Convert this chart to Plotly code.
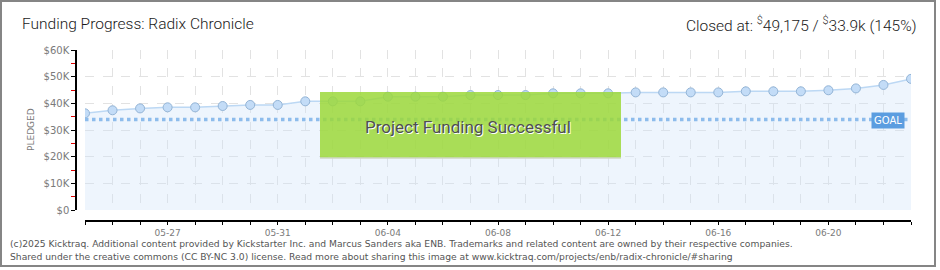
import plotly.graph_objects as go

# ---- data ----
dates = [
    "2025-05-24", "2025-05-25", "2025-05-26", "2025-05-27", "2025-05-28", "2025-05-29",
    "2025-05-30", "2025-05-31", "2025-06-01", "2025-06-02", "2025-06-03", "2025-06-04",
    "2025-06-05", "2025-06-06", "2025-06-07", "2025-06-08", "2025-06-09", "2025-06-10",
    "2025-06-11", "2025-06-12", "2025-06-13", "2025-06-14", "2025-06-15", "2025-06-16",
    "2025-06-17", "2025-06-18", "2025-06-19", "2025-06-20", "2025-06-21", "2025-06-22",
    "2025-06-23",
]
pledged = [
    36250, 37400, 38100, 38500, 38500, 39000,
    39400, 39400, 40750, 40750, 40750, 42500,
    42500, 42500, 43100, 43100, 43100, 43750,
    43750, 43750, 44100, 44100, 44100, 44100,
    44500, 44500, 44500, 44900, 45600, 46900,
    49175,
]
goal = 33900
y_tick_vals = [0, 10000, 20000, 30000, 40000, 50000, 60000]
y_tick_text = ["$0", "$10K", "$20K", "$30K", "$40K", "$50K", "$60K"]
y_minor_vals = [5000, 15000, 25000, 35000, 45000, 55000]
x_label_dates = ["2025-05-27", "2025-05-31", "2025-06-04", "2025-06-08",
                 "2025-06-12", "2025-06-16", "2025-06-20"]
x_label_text = [d[5:] for d in x_label_dates]
x_minor_dates = [d for d in dates if d not in x_label_dates]

W, H = 940, 270
def px(x):
    return x / W
def py(y):
    return (H - y) / H

fig = go.Figure()

# pledged area + line + markers
fig.add_trace(go.Scatter(
    x=dates, y=pledged, mode="lines+markers",
    fill="tozeroy", fillcolor="rgba(205,226,249,0.35)",
    line=dict(color="#bcd8f4", width=1.5),
    marker=dict(size=9, color="#c3dcf7", line=dict(color="#93b4d6", width=1)),
    hoverinfo="skip", showlegend=False,
))

# goal line
fig.add_trace(go.Scatter(
    x=[dates[0], dates[-1]], y=[goal, goal], mode="lines",
    line=dict(color="#8dbcec", width=3.5, dash="dot"),
    hoverinfo="skip", showlegend=False,
))

label_font = dict(family="DejaVu Sans", size=10, color="#7a7a7a")
grid = dict(gridcolor="#e2e2e2", griddash="dash", gridwidth=1)

fig.update_layout(
    width=W, height=H,
    margin=dict(l=0, r=0, t=0, b=0, autoexpand=False),
    paper_bgcolor="white", plot_bgcolor="white",
    xaxis=dict(
        type="date",
        range=[dates[0], dates[-1]],
        domain=[px(85), px(911)],
        anchor="free", position=py(221), automargin=False,
        tickmode="array", tickvals=x_label_dates, ticktext=x_label_text,
        ticks="outside", ticklen=3, tickcolor="#000", tickwidth=1.2,
        showline=True, linecolor="#000", linewidth=1.5,
        showgrid=True, **grid,
        minor=dict(tickmode="array", tickvals=x_minor_dates, ticks="outside",
                   ticklen=3, tickcolor="#000", tickwidth=1.2, showgrid=True, **grid),
        tickfont=dict(family="DejaVu Sans", size=9, color="#7a7a7a"),
        zeroline=False, fixedrange=True,
    ),
    yaxis=dict(
        range=[0, 60000],
        domain=[py(210), py(50)],
        anchor="free", position=px(76), automargin=False,
        tickmode="array", tickvals=y_tick_vals, ticktext=y_tick_text,
        ticks="outside", ticklen=4, tickcolor="#000", tickwidth=1.2,
        showline=True, linecolor="#000", linewidth=1.5,
        showgrid=True, **grid,
        tickfont=label_font,
        minor=dict(tickmode="array", tickvals=y_minor_vals, ticks="outside",
                   ticklen=4, tickcolor="#e00000", tickwidth=1.2, showgrid=False),
        zeroline=False, fixedrange=True,
    ),
)

title_font = "Roboto, sans-serif"

annotations = [
    dict(text="Funding Progress: Radix Chronicle", x=px(20), y=py(24),
         xanchor="left", yanchor="middle",
         font=dict(family=title_font, size=15.5, color="#1a1a1a", weight=300)),
    dict(text="Closed at: <sup>$</sup>49,175 / <sup>$</sup>33.9k (145%)", x=px(919), y=py(24),
         xanchor="right", yanchor="middle",
         font=dict(family=title_font, size=15.5, color="#1a1a1a", weight=300)),
    dict(text="PLEDGED", x=px(31), y=py(130), textangle=-90,
         xanchor="center", yanchor="middle",
         font=dict(family="DejaVu Sans", size=9, color="#7a7a7a")),
    dict(text="GOAL", x=px(888), y=py(120), xanchor="center", yanchor="middle",
         bgcolor="#5b9de0", borderpad=2,
         font=dict(family="DejaVu Sans", size=10, color="white")),
    dict(text="Project Funding Successful", x=px(468), y=py(127),
         xanchor="center", yanchor="middle",
         font=dict(family=title_font, size=17, color="#4f4f4f",
                   shadow="1px 1px 0px #ffffff")),
    dict(text="(c)2025 Kicktraq. Additional content provided by Kickstarter Inc. and Marcus Sanders aka ENB. "
              "Trademarks and related content are owned by their respective companies.",
         x=px(8), y=py(243), xanchor="left", yanchor="middle",
         font=dict(family="DejaVu Sans", size=9.2, color="#555555")),
    dict(text="Shared under the creative commons (CC BY-NC 3.0) license. Read more about sharing this image at "
              "www.kicktraq.com/projects/enb/radix-chronicle/#sharing",
         x=px(8), y=py(256), xanchor="left", yanchor="middle",
         font=dict(family="DejaVu Sans", size=9.2, color="#555555")),
]
for a in annotations:
    a.update(xref="paper", yref="paper", showarrow=False)
fig.update_layout(annotations=annotations)

shapes = [
    # green success banner
    dict(type="rect", xref="paper", yref="paper",
         x0=px(320), x1=px(621), y0=py(158), y1=py(92),
         fillcolor="rgba(156,216,58,0.85)", line=dict(width=0), layer="above"),
    dict(type="line", xref="paper", yref="paper",
         x0=px(320), x1=px(621), y0=py(158), y1=py(158),
         line=dict(color="#cfd6c4", width=1.5), layer="above"),
    # outer frame
    dict(type="rect", xref="paper", yref="paper",
         x0=px(1), x1=px(935), y0=py(266), y1=py(1),
         fillcolor="rgba(0,0,0,0)", line=dict(color="#858585", width=2), layer="above"),
]
fig.update_layout(shapes=shapes)

fig.write_html("out.html")
